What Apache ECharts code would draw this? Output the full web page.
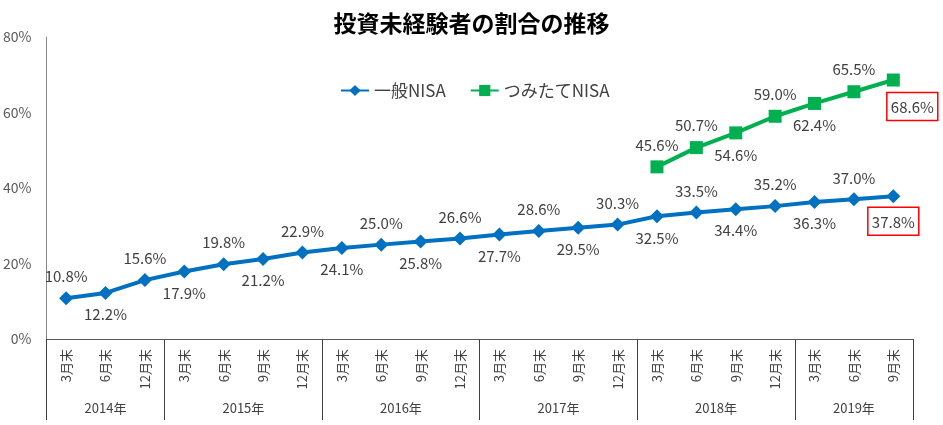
<!DOCTYPE html>
<html>
<head>
<meta charset="utf-8">
<script src="https://cdn.jsdelivr.net/npm/echarts@6/dist/echarts.min.js"></script>
<style>
  html, body { margin: 0; padding: 0; background: #fff; }
  #chart { width: 943px; height: 425px; }
</style>
</head>
<body>
<div id="chart"></div>
<script>
const months = ['3月末', '6月末', '12月末',
                '3月末', '6月末', '9月末', '12月末',
                '3月末', '6月末', '9月末', '12月末',
                '3月末', '6月末', '9月末', '12月末',
                '3月末', '6月末', '9月末', '12月末',
                '3月末', '6月末', '9月末'];
const years = ['2014年', '2015年', '2016年', '2017年', '2018年', '2019年'];
const yearCounts = [3, 4, 4, 4, 4, 3];
const general = [10.8, 12.2, 15.6, 17.9, 19.8, 21.2, 22.9, 24.1, 25.0, 25.8, 26.6,
                 27.7, 28.6, 29.5, 30.3, 32.5, 33.5, 34.4, 35.2, 36.3, 37.0, 37.8];
const tsumitate = [45.6, 50.7, 54.6, 59.0, 62.4, 65.5, 68.6];
const yTicks = [0, 20, 40, 60, 80];

const FONT = '"Noto Sans CJK JP", "Noto Sans", sans-serif';
const TXT = '#404040';

// year group edges / centres on a 0..n value scale
let edges = [0], centres = [];
yearCounts.forEach((c, i) => {
    let a = edges[i], b = a + c;
    edges.push(b);
    centres.push((a + b) / 2);
});

const fmt = v => v.toFixed(1) + '%';
const boxed = {
    borderColor: '#FF0000', borderWidth: 1.5, padding: [7, 4, 6, 4]
};

let generalData = general.map((v, i) => {
    let last = i === general.length - 1;
    let item = { value: v, label: { position: i % 2 === 0 ? 'top' : 'bottom' } };
    if (last) Object.assign(item.label, boxed, { distance: 4 });
    return item;
});

const tsuPos = ['top', 'top', 'bottom', 'top', 'bottom', 'top', 'bottom'];
let pad = months.length - tsumitate.length;
let tsumitateData = months.map((m, i) => {
    if (i < pad) return null;
    let k = i - pad, last = k === tsumitate.length - 1;
    let item = { value: tsumitate[k], label: { position: tsuPos[k] } };
    if (last) Object.assign(item.label, boxed, { distance: 6, offset: [19, 0] });
    return item;
});

let chart = echarts.init(document.getElementById('chart'));
let option = {
    animation: false,
    textStyle: { fontFamily: FONT },
    title: {
        text: '投資未経験者の割合の推移',
        left: 'center',
        top: 7,
        textStyle: { fontSize: 23, fontWeight: 'bold', color: '#000', fontFamily: FONT }
    },
    legend: {
        left: 335,
        top: 77,
        itemWidth: 28,
        itemHeight: 14,
        itemGap: 24,
        textStyle: { fontSize: 17, color: TXT, fontFamily: FONT }
    },
    grid: { left: 44, right: 30, top: 37, bottom: 86 },
    xAxis: [
        {
            type: 'category',
            data: months,
            boundaryGap: true,
            axisLine: { lineStyle: { color: '#595959', width: 1 } },
            axisTick: { show: false },
            axisLabel: { rotate: 90, margin: 10, fontSize: 13, color: TXT, interval: 0 }
        },
        {
            type: 'value',
            min: 0,
            max: months.length,
            position: 'bottom',
            axisLine: { show: false },
            splitLine: { show: false },
            axisTick: {
                show: true, length: 81, customValues: edges,
                lineStyle: { color: '#404040', width: 1 }
            },
            axisLabel: {
                customValues: centres,
                margin: 63,
                fontSize: 13,
                color: TXT,
                formatter: v => years[centres.indexOf(v)] || ''
            }
        }
    ],
    yAxis: {
        type: 'value',
        min: yTicks[0],
        max: yTicks[yTicks.length - 1],
        interval: 20,
        splitLine: { show: false },
        axisLine: { show: true, lineStyle: { color: '#868686' } },
        axisTick: { show: false },
        axisLabel: { formatter: '{value}%', margin: 15, fontSize: 14, color: '#595959' }
    },
    series: [
        {
            name: '一般NISA',
            type: 'line',
            data: generalData,
            symbol: 'diamond',
            symbolSize: 14,
            lineStyle: { color: '#0070C0', width: 4 },
            itemStyle: { color: '#0070C0' },
            label: {
                show: true, distance: 7, fontSize: 15, color: TXT,
                formatter: p => fmt(p.value)
            }
        },
        {
            name: 'つみたてNISA',
            type: 'line',
            data: tsumitateData,
            symbol: 'rect',
            symbolSize: 13,
            lineStyle: { color: '#00B050', width: 4 },
            itemStyle: { color: '#00B050' },
            label: {
                show: true, distance: 8, fontSize: 15, color: TXT,
                formatter: p => fmt(p.value)
            }
        }
    ]
};
chart.setOption(option);
</script>
</body>
</html>
